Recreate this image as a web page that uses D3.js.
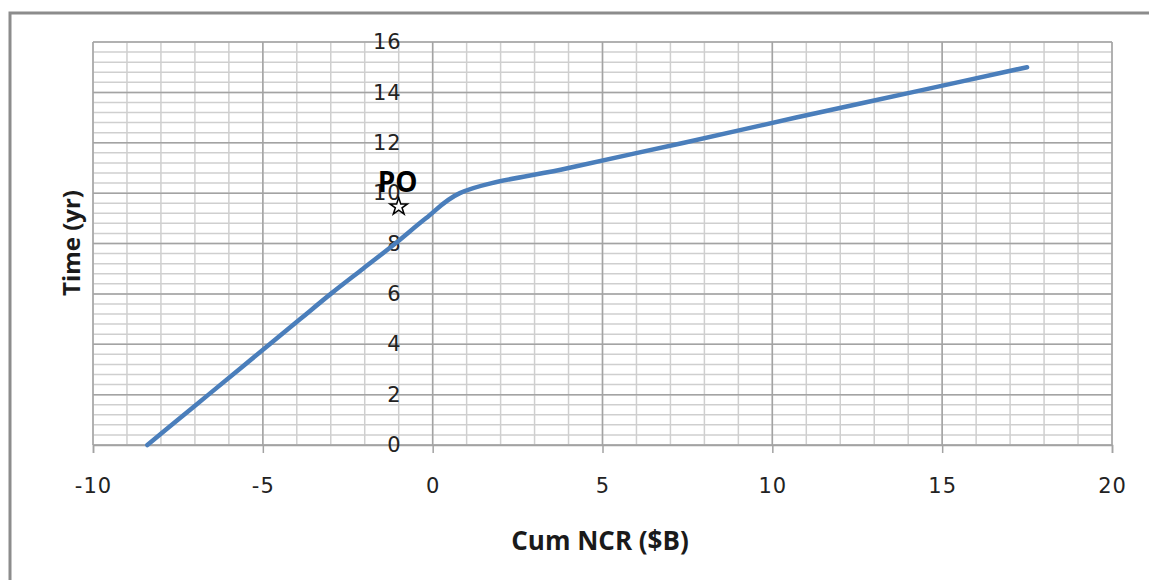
<!DOCTYPE html>
<html>
<head>
<meta charset="utf-8">
<script src="https://cdn.jsdelivr.net/npm/d3@7"></script>
<style>
  body { margin: 0; background: #fff; }
  svg { display: block; }
</style>
</head>
<body>
<div id="chart"></div>
<script>
// data
var timeYr = [0, 1, 2, 3, 4, 5, 6, 7, 8, 9, 10, 11, 12, 13, 14, 15];
var cumNcr = [-8.4, -7.5, -6.6, -5.7, -4.8, -3.9, -3.0, -2.05, -1.1, -0.2, 0.8, 4.0, 7.4, 10.7, 14.1, 17.5];
var xTicks = [-10, -5, 0, 5, 10, 15, 20];
var yTicks = [0, 2, 4, 6, 8, 10, 12, 14, 16];
var poPoint = { x: -1, y: 9.5, label: "PO" };

var W = 1149, H = 580;
var margin = { top: 42, right: 37, bottom: 135, left: 93 };
var width = W - margin.left - margin.right;
var height = H - margin.top - margin.bottom;

var x = d3.scaleLinear().domain([-10, 20]).range([0, width]);
var y = d3.scaleLinear().domain([0, 16]).range([height, 0]);

var svg = d3.select("#chart").append("svg")
    .attr("width", W)
    .attr("height", H);

// outer frame
svg.append("rect")
    .attr("x", 10).attr("y", 13)
    .attr("width", 1200).attr("height", 700)
    .attr("fill", "none")
    .attr("stroke", "#8c8c8c")
    .attr("stroke-width", 3);

var g = svg.append("g")
    .attr("transform", "translate(" + [margin.left, margin.top] + ")");

// minor grid
var xMinor = d3.range(-10, 20.001, 1);
var yMinor = d3.range(0, 16.001, 0.4);

g.append("g").selectAll("line").data(xMinor).enter()
  .append("line")
    .attr("x1", function(d) { return x(d); })
    .attr("x2", function(d) { return x(d); })
    .attr("y1", 0).attr("y2", height)
    .attr("stroke", "#cfcfcf").attr("stroke-width", 1.5);

g.append("g").selectAll("line").data(yMinor).enter()
  .append("line")
    .attr("y1", function(d) { return y(d); })
    .attr("y2", function(d) { return y(d); })
    .attr("x1", 0).attr("x2", width)
    .attr("stroke", "#cfcfcf").attr("stroke-width", 1.5);

// major grid
g.append("g").selectAll("line").data(xTicks).enter()
  .append("line")
    .attr("x1", function(d) { return x(d); })
    .attr("x2", function(d) { return x(d); })
    .attr("y1", 0).attr("y2", height)
    .attr("stroke", "#a3a3a3").attr("stroke-width", 1.5);

g.append("g").selectAll("line").data(yTicks).enter()
  .append("line")
    .attr("y1", function(d) { return y(d); })
    .attr("y2", function(d) { return y(d); })
    .attr("x1", 0).attr("x2", width)
    .attr("stroke", "#a3a3a3").attr("stroke-width", 1.5);

var plain = function(d) { return String(d); };

// x axis
var xAxis = g.append("g")
    .attr("transform", "translate(0," + height + ")")
    .call(d3.axisBottom(x).tickValues(xTicks).tickFormat(plain).tickSize(8).tickPadding(25));
xAxis.select(".domain").attr("stroke", "#a3a3a3").attr("stroke-width", 1.5);
xAxis.selectAll(".tick line").attr("stroke", "#a3a3a3").attr("stroke-width", 1.5);
xAxis.selectAll("text")
    .attr("font-family", "DejaVu Sans")
    .attr("font-size", 21)
    .attr("letter-spacing", 1)
    .attr("fill", "#222");

// y axis labels, crossing at x = 0
var yAxis = g.append("g")
    .attr("transform", "translate(" + x(0) + ",0)")
    .call(d3.axisLeft(y).tickValues(yTicks).tickFormat(plain).tickSize(0).tickPadding(31));
yAxis.select(".domain").remove();
yAxis.selectAll("text")
    .attr("font-family", "DejaVu Sans")
    .attr("font-size", 21)
    .attr("letter-spacing", 1)
    .attr("fill", "#222");

// line
var line = d3.line()
    .x(function(d, i) { return x(cumNcr[i]); })
    .y(function(d) { return y(d); })
    .curve(d3.curveCatmullRom.alpha(0.5));

g.append("path")
    .datum(timeYr)
    .attr("d", line)
    .attr("fill", "none")
    .attr("stroke", "#4a7ebb")
    .attr("stroke-width", 4.5)
    .attr("stroke-linecap", "round");

// PO marker
g.append("path")
    .attr("d", d3.symbol().type(d3.symbolStar).size(95)())
    .attr("transform", "translate(" + [x(poPoint.x), y(poPoint.y) + 1] + ")")
    .attr("fill", "#fff")
    .attr("stroke", "#000")
    .attr("stroke-width", 1.5);

g.append("text")
    .attr("x", x(poPoint.x) - 1)
    .attr("y", y(poPoint.y) - 14)
    .attr("text-anchor", "middle")
    .attr("font-family", "Open Sans")
    .attr("font-weight", 700)
    .attr("font-size", 28)
    .attr("fill", "#000")
    .text(poPoint.label);

// axis titles
svg.append("text")
    .attr("x", 600).attr("y", 550)
    .attr("text-anchor", "middle")
    .attr("font-family", "Open Sans")
    .attr("font-weight", 700)
    .attr("font-size", 26)
    .attr("fill", "#1a1a1a")
    .text("Cum NCR ($B)");

svg.append("text")
    .attr("transform", "translate(80,243) rotate(-90)")
    .attr("text-anchor", "middle")
    .attr("font-family", "Open Sans")
    .attr("font-weight", 700)
    .attr("font-size", 24)
    .attr("fill", "#1a1a1a")
    .text("Time (yr)");
</script>
</body>
</html>
